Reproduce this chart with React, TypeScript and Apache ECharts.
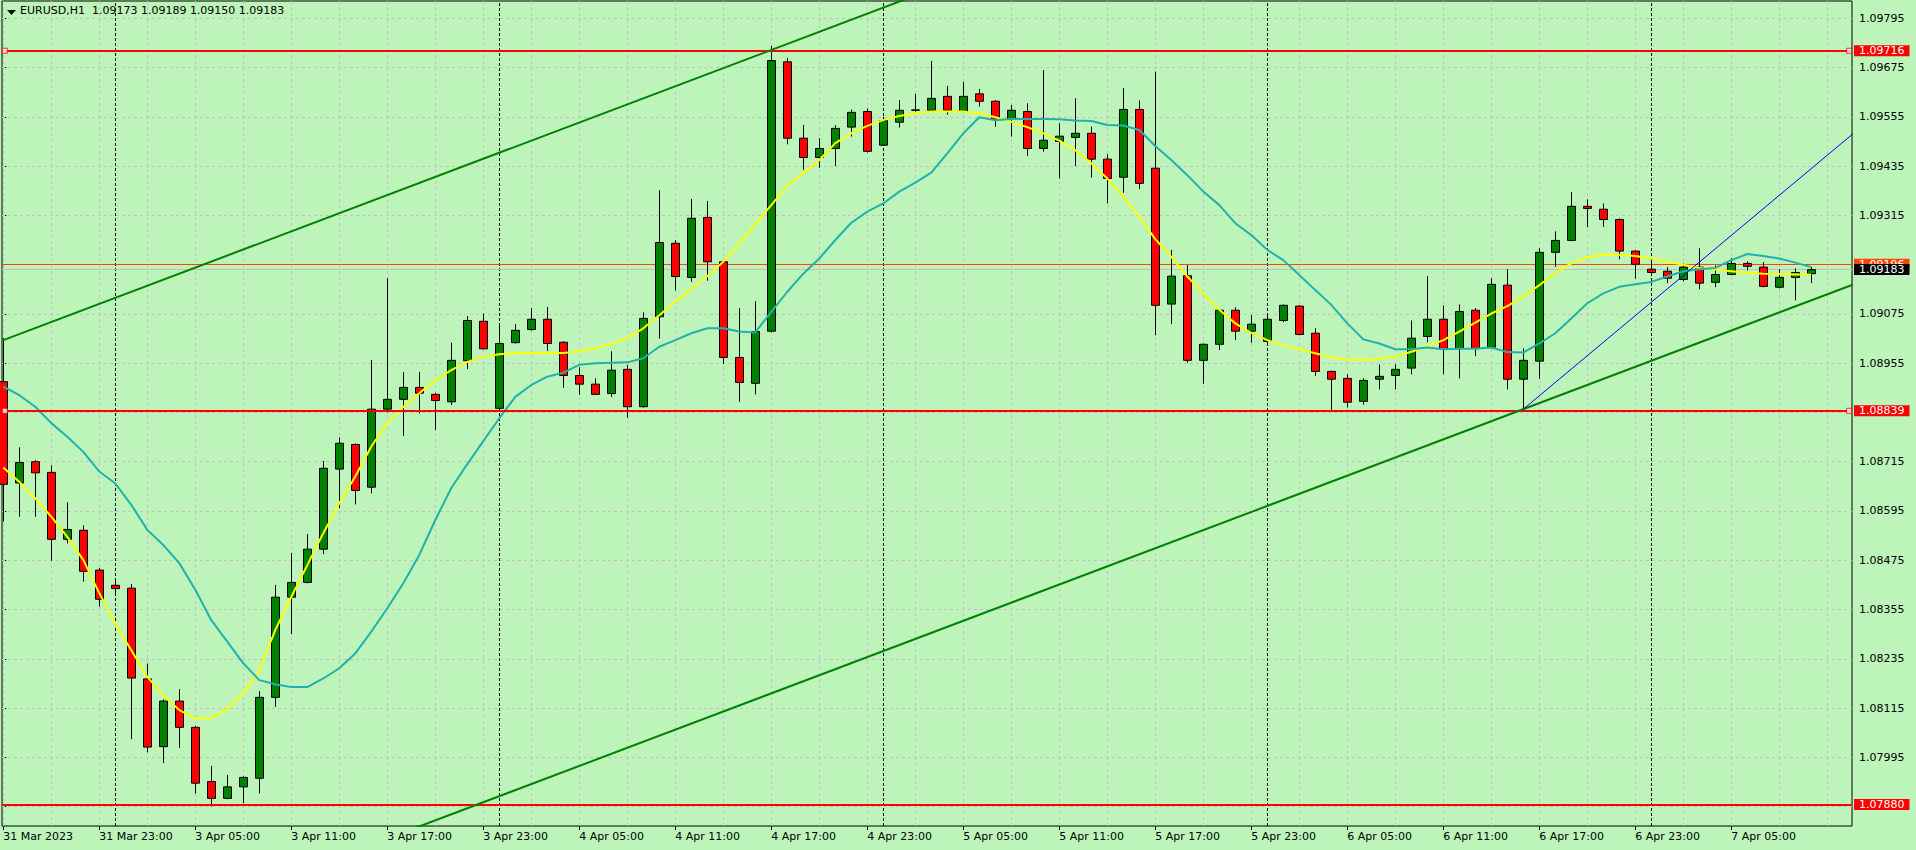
import React, { useEffect, useRef } from 'react';
import * as echarts from 'echarts';

const FONT = 'DejaVu Sans';
const BG = '#bdf4ba';

const symbolTitle = 'EURUSD,H1';
const lastBarOHLC = [1.09173, 1.09189, 1.0915, 1.09183];

// [open, high, low, close] per H1 bar, 31 Mar 17:00 .. 7 Apr 10:00
const candles: number[][] = [
  [1.0891, 1.09016, 1.08569, 1.0866], [1.08663, 1.0875, 1.08581, 1.08713], [1.08715, 1.08719, 1.08581, 1.08688],
  [1.08689, 1.08706, 1.08474, 1.08526], [1.08526, 1.08616, 1.08516, 1.0855], [1.08548, 1.0856, 1.08423, 1.08448],
  [1.08451, 1.08456, 1.08362, 1.0838], [1.08414, 1.08431, 1.08394, 1.08406], [1.08407, 1.08417, 1.08039, 1.08188],
  [1.08186, 1.08223, 1.08007, 1.0802], [1.08021, 1.08136, 1.07981, 1.08132], [1.08132, 1.08161, 1.08018, 1.08068],
  [1.08068, 1.08072, 1.07907, 1.07932], [1.07936, 1.07974, 1.07875, 1.07895], [1.07895, 1.07952, 1.07893, 1.07923],
  [1.07923, 1.07949, 1.07883, 1.07946], [1.07944, 1.08156, 1.07907, 1.08141], [1.08141, 1.08415, 1.08118, 1.08385],
  [1.08385, 1.08493, 1.08295, 1.08421], [1.08421, 1.08539, 1.08419, 1.08502], [1.08502, 1.08717, 1.0849, 1.08699],
  [1.08697, 1.08774, 1.08602, 1.0876], [1.08757, 1.0876, 1.08611, 1.08645], [1.08653, 1.08963, 1.08638, 1.08843],
  [1.08843, 1.09162, 1.08835, 1.08867], [1.08867, 1.08933, 1.08778, 1.08896], [1.08896, 1.08934, 1.08833, 1.08882],
  [1.08879, 1.08883, 1.08792, 1.08864], [1.08861, 1.09005, 1.08853, 1.08962], [1.08961, 1.0907, 1.08941, 1.09059],
  [1.09057, 1.09076, 1.08989, 1.0899], [1.08845, 1.09046, 1.08843, 1.09003], [1.09005, 1.0905, 1.09003, 1.09035],
  [1.09037, 1.09089, 1.09034, 1.09062], [1.09062, 1.09092, 1.08985, 1.09003], [1.09006, 1.09008, 1.08895, 1.08925],
  [1.08925, 1.08945, 1.08878, 1.08904], [1.08904, 1.08918, 1.08878, 1.08879], [1.08881, 1.08984, 1.08873, 1.08938],
  [1.0894, 1.08951, 1.08822, 1.08849], [1.08849, 1.09079, 1.08847, 1.09064], [1.09068, 1.09376, 1.09015, 1.09249],
  [1.09247, 1.09255, 1.09132, 1.09166], [1.09164, 1.09355, 1.09153, 1.09308], [1.0931, 1.0935, 1.09156, 1.09202],
  [1.09202, 1.09205, 1.08953, 1.08969], [1.08969, 1.09089, 1.08861, 1.08908], [1.08906, 1.09106, 1.08879, 1.09032],
  [1.09033, 1.09728, 1.0903, 1.09692], [1.09689, 1.09698, 1.09488, 1.09503], [1.09503, 1.09535, 1.09426, 1.09456],
  [1.09456, 1.09503, 1.09431, 1.09478], [1.09478, 1.09535, 1.09435, 1.09527], [1.0953, 1.09573, 1.09507, 1.09566],
  [1.09568, 1.09576, 1.09468, 1.09471], [1.09486, 1.09555, 1.09484, 1.09546], [1.09542, 1.09596, 1.09529, 1.09571],
  [1.09571, 1.09611, 1.09568, 1.09572], [1.09571, 1.09691, 1.09568, 1.096], [1.09605, 1.0963, 1.0956, 1.09571],
  [1.09568, 1.0964, 1.09566, 1.09605], [1.09611, 1.09623, 1.0958, 1.09593], [1.09593, 1.09596, 1.09531, 1.09549],
  [1.09549, 1.09584, 1.09507, 1.09571], [1.09568, 1.09588, 1.0946, 1.09478], [1.09478, 1.09669, 1.0947, 1.09498],
  [1.09495, 1.09539, 1.09405, 1.09508], [1.09505, 1.096, 1.09435, 1.09515], [1.09515, 1.09531, 1.09407, 1.09452],
  [1.09452, 1.09464, 1.09344, 1.09405], [1.09408, 1.09625, 1.0937, 1.09573], [1.09573, 1.09595, 1.09379, 1.09393],
  [1.0943, 1.09665, 1.09023, 1.09096], [1.09099, 1.09231, 1.0905, 1.09167], [1.09168, 1.09194, 1.08956, 1.08962],
  [1.08962, 1.09003, 1.08905, 1.09001], [1.09001, 1.09086, 1.08987, 1.09084], [1.09084, 1.09091, 1.09011, 1.09033],
  [1.09033, 1.09072, 1.09005, 1.0905], [1.09008, 1.09075, 1.08999, 1.09062], [1.09059, 1.09098, 1.09055, 1.09096],
  [1.09094, 1.09096, 1.09023, 1.09025], [1.09028, 1.0904, 1.08924, 1.08935], [1.08935, 1.08937, 1.08841, 1.08916],
  [1.08918, 1.08928, 1.08847, 1.0886], [1.08862, 1.08918, 1.08854, 1.08913], [1.08916, 1.08952, 1.08891, 1.08923],
  [1.08925, 1.08952, 1.08891, 1.0894], [1.08943, 1.09059, 1.08928, 1.09016], [1.0902, 1.09167, 1.09006, 1.09062],
  [1.09062, 1.09096, 1.08928, 1.08989], [1.08991, 1.09098, 1.08918, 1.09081], [1.09084, 1.09089, 1.08972, 1.08991],
  [1.08994, 1.09162, 1.08991, 1.09147], [1.09145, 1.09184, 1.08891, 1.08916], [1.08916, 1.08991, 1.08843, 1.08962],
  [1.0896, 1.09235, 1.08917, 1.09225], [1.09225, 1.09276, 1.0919, 1.09254], [1.09254, 1.09372, 1.09252, 1.09337],
  [1.09337, 1.09354, 1.09286, 1.09332], [1.0933, 1.09344, 1.09287, 1.09305], [1.09305, 1.09308, 1.09208, 1.09228],
  [1.09228, 1.0923, 1.09161, 1.09196], [1.09184, 1.09208, 1.09174, 1.09176], [1.09179, 1.09189, 1.0915, 1.09162],
  [1.09159, 1.09198, 1.09154, 1.09189], [1.09189, 1.09235, 1.09135, 1.0915], [1.09152, 1.09193, 1.0914, 1.09171],
  [1.09171, 1.09211, 1.09169, 1.09198], [1.09198, 1.09203, 1.09181, 1.09191], [1.09189, 1.09201, 1.0914, 1.09142],
  [1.0914, 1.09184, 1.09137, 1.09164], [1.09164, 1.09186, 1.09108, 1.09176], [1.09173, 1.09189, 1.0915, 1.09183],
];

const maYellow: number[] = [
  1.08701, 1.08666, 1.08626, 1.08581, 1.08532, 1.08476, 1.08395, 1.08321, 1.08256, 1.08191,
  1.08147, 1.0811, 1.0809, 1.0809, 1.08113, 1.08151, 1.08208, 1.08305, 1.08386, 1.08463,
  1.08541, 1.08614, 1.08679, 1.08752, 1.08809, 1.08848, 1.08882, 1.08914, 1.08938, 1.08958,
  1.08971, 1.08977, 1.08979, 1.0898, 1.0898, 1.0898, 1.08984, 1.08991, 1.09002, 1.09016,
  1.0904, 1.09072, 1.09105, 1.09137, 1.09167, 1.09202, 1.09247, 1.09294, 1.0934, 1.09387,
  1.09418, 1.0945, 1.09491, 1.09515, 1.09533, 1.09547, 1.09557, 1.09564, 1.09568, 1.09568,
  1.09568, 1.09564, 1.09554, 1.09543, 1.0953, 1.09515, 1.09497, 1.09474, 1.09442, 1.09405,
  1.09361, 1.09312, 1.09257, 1.09214, 1.09166, 1.09125, 1.09085, 1.09052, 1.09029, 1.09011,
  1.08999, 1.08989, 1.08979, 1.08969, 1.08964, 1.08963, 1.08966, 1.08971, 1.08983, 1.08995,
  1.09011, 1.09032, 1.09054, 1.09076, 1.09094, 1.09117, 1.09145, 1.09175, 1.09198, 1.09213,
  1.09219, 1.09219, 1.09216, 1.0921, 1.09202, 1.09195, 1.09187, 1.09183, 1.09179, 1.09175,
  1.09173, 1.09172, 1.09171, 1.09171,
];

const maTeal: number[] = [
  1.08898, 1.08877, 1.08849, 1.08809, 1.08776, 1.08739, 1.08691, 1.08662, 1.0861, 1.08549,
  1.08512, 1.08468, 1.08403, 1.08329, 1.08277, 1.08224, 1.08183, 1.08173, 1.08166, 1.08166,
  1.08187, 1.08212, 1.08248, 1.08301, 1.08358, 1.08419, 1.08488, 1.08573, 1.08651, 1.08709,
  1.08765, 1.08821, 1.08873, 1.08902, 1.08922, 1.08932, 1.08951, 1.08955, 1.08956, 1.08957,
  1.08967, 1.08995, 1.09011, 1.09028, 1.0904, 1.0904, 1.09032, 1.0903, 1.0908, 1.09129,
  1.09173, 1.0921, 1.09255, 1.09297, 1.09324, 1.09344, 1.09373, 1.09395, 1.09419, 1.09466,
  1.09515, 1.09554, 1.09547, 1.0955, 1.0955, 1.0955, 1.09549, 1.09546, 1.09545, 1.09535,
  1.09534, 1.09523, 1.09484, 1.0945, 1.09413, 1.09373, 1.0934, 1.09296, 1.09267, 1.09231,
  1.09206, 1.0917, 1.09133, 1.09097, 1.09052, 1.09013, 1.09003, 1.08989, 1.08989, 1.08993,
  1.08989, 1.0899, 1.0899, 1.08993, 1.08982, 1.08981, 1.09003, 1.09028, 1.09064, 1.09101,
  1.09125, 1.09141, 1.09147, 1.09153, 1.09166, 1.09179, 1.09184, 1.09187, 1.09206, 1.09221,
  1.09216, 1.0921, 1.092, 1.09189,
];

const priceTicks = [
  1.07875, 1.07995, 1.08115, 1.08235, 1.08355, 1.08475, 1.08595, 1.08715, 1.08835,
  1.08955, 1.09075, 1.09195, 1.09315, 1.09435, 1.09555, 1.09675, 1.09795,
];
const hiddenPriceLabels = [1.07875, 1.08835, 1.09195];

const timeTickBars = [0, 6, 12, 18, 24, 30, 36, 42, 48, 54, 60, 66, 72, 78, 84, 90, 96, 102, 108];
const timeTickLabels = [
  '31 Mar 2023', '31 Mar 23:00', '3 Apr 05:00', '3 Apr 11:00', '3 Apr 17:00', '3 Apr 23:00',
  '4 Apr 05:00', '4 Apr 11:00', '4 Apr 17:00', '4 Apr 23:00', '5 Apr 05:00', '5 Apr 11:00',
  '5 Apr 17:00', '5 Apr 23:00', '6 Apr 05:00', '6 Apr 11:00', '6 Apr 17:00', '6 Apr 23:00', '7 Apr 05:00',
];
const daySeparatorBars = [7, 31, 55, 79, 103];
const gridBarStep = 3;

const redLevels = [1.09716, 1.08839, 1.0788];
const selectedLevels = [1.09716, 1.08839];
const askPrice = 1.09196;
const bidPrice = 1.09183;

const upperTrend = [[0, 1.09011], [48, 1.09718]];
const lowerTrendAnchor = [95, 1.08843];
const blueTrend = [[95, 1.08843], [113, 1.09429]];

const X_MIN = -0.081;
const X_MAX = 115.544;
const Y_MIN = 1.078277;
const Y_MAX = 1.098372;

function lineThrough(p: number[], slope: number, xa: number, xb: number) {
  return [[xa, p[1] + slope * (xa - p[0])], [xb, p[1] + slope * (xb - p[0])]];
}

function priceLabelAxis(values: number[], bg: string) {
  return {
    type: 'value',
    position: 'right',
    min: Y_MIN,
    max: Y_MAX,
    axisLine: { show: false },
    axisTick: { show: false },
    splitLine: { show: false },
    axisLabel: {
      customValues: values,
      margin: 2,
      hideOverlap: false,
      formatter: (v: number) => `{b|${v.toFixed(5)}}`,
      rich: {
        b: {
          backgroundColor: bg, color: '#ffffff', padding: [0, 5, 0, 5],
          lineHeight: 12, fontSize: 11, fontFamily: FONT,
        },
      },
    },
  };
}

export default function App() {
  const ref = useRef<HTMLDivElement>(null);
  useEffect(() => {
    if (!ref.current) return;
    const chart = echarts.init(ref.current, undefined, { renderer: 'svg' });
    const slope = (upperTrend[1][1] - upperTrend[0][1]) / (upperTrend[1][0] - upperTrend[0][0]);
    const blueSlope = (blueTrend[1][1] - blueTrend[0][1]) / (blueTrend[1][0] - blueTrend[0][0]);
    const gridBars: number[] = [];
    for (let b = 0; b <= X_MAX; b += gridBarStep) gridBars.push(b);
    const same = (a: number, b: number) => Math.abs(a - b) < 1e-7;
    const gridStyle = { color: '#c8bec8', width: 1, type: [3, 3] };

    const option: any = {
      animation: false,
      backgroundColor: BG,
      textStyle: { fontFamily: FONT },
      title: {
        text: `${symbolTitle}  ${lastBarOHLC.map((v) => v.toFixed(5)).join(' ')}`,
        left: 20,
        top: 5,
        padding: 0,
        textStyle: { fontSize: 11, fontWeight: 'normal', color: '#000', fontFamily: FONT },
        z: 20,
      },
      graphic: [
        {
          type: 'polygon',
          shape: { points: [[7, 10], [16, 10], [11.5, 15]] },
          style: { fill: '#000' },
          z: 100,
        },
      ],
      grid: {
        left: 2, right: 64, top: 1, bottom: 24,
        show: true, backgroundColor: BG, borderColor: '#000', borderWidth: 1,
      },
      xAxis: {
        type: 'value',
        min: X_MIN,
        max: X_MAX,
        axisLine: { show: false },
        axisTick: { show: true, customValues: timeTickBars, length: 4, lineStyle: { color: '#000' } },
        axisLabel: {
          customValues: timeTickBars,
          formatter: (v: number) => {
            const k = timeTickBars.indexOf(Math.round(v));
            return k >= 0 ? timeTickLabels[k] : '';
          },
          align: 'left',
          margin: 5,
          fontSize: 11,
          color: '#000',
          fontFamily: FONT,
        },
        splitLine: { show: false },
      },
      yAxis: [
        {
          type: 'value',
          position: 'right',
          min: Y_MIN,
          max: Y_MAX,
          axisLine: { show: false },
          axisTick: { show: true, customValues: priceTicks, length: 3, lineStyle: { color: '#000' } },
          axisLabel: {
            customValues: priceTicks.filter((t) => !hiddenPriceLabels.some((h) => same(h, t))),
            formatter: (v: number) => v.toFixed(5),
            margin: 7,
            fontSize: 11,
            color: '#000',
            fontFamily: FONT,
          },
          splitLine: { show: false },
        },
        priceLabelAxis(redLevels, '#ff0000'),
        priceLabelAxis([askPrice], '#ff4500'),
        priceLabelAxis([bidPrice], '#000000'),
      ],
      series: [
        {
          name: 'grid',
          type: 'line',
          data: [],
          z: 1,
          silent: true,
          markLine: {
            z: 1,
            silent: true,
            precision: 6,
            symbol: 'none',
            label: { show: false },
            emphasis: { disabled: true },
            animation: false,
            data: [
              ...priceTicks.map((v) => ({ yAxis: v, lineStyle: gridStyle })),
              ...gridBars.map((b) => ({ xAxis: b, lineStyle: gridStyle })),
              ...daySeparatorBars.map((b) => ({ xAxis: b, lineStyle: { color: '#000000', width: 1, type: [3, 2] } })),
              { yAxis: askPrice, lineStyle: { color: '#ff4500', width: 1, type: 'solid' } },
              { yAxis: bidPrice, lineStyle: { color: '#c0c0c0', width: 1, type: 'solid' } },
            ],
          },
        },
        {
          name: 'EURUSD',
          type: 'candlestick',
          z: 3,
          clip: true,
          barWidth: 9,
          silent: true,
          data: candles.map((c, i) => [i, c[0], c[3], c[2], c[1]]),
          itemStyle: {
            color: '#008000',
            color0: '#ff0000',
            borderColor: '#000000',
            borderColor0: '#000000',
            borderColorDoji: '#000000',
            borderWidth: 1,
          },
        },
        {
          name: 'MA yellow',
          type: 'line',
          z: 4,
          silent: true,
          showSymbol: false,
          symbol: 'none',
          data: maYellow.map((v, i) => [i, v]),
          lineStyle: { color: '#ffff00', width: 2 },
        },
        {
          name: 'MA teal',
          type: 'line',
          z: 4,
          silent: true,
          showSymbol: false,
          symbol: 'none',
          data: maTeal.map((v, i) => [i, v]),
          lineStyle: { color: '#20b2aa', width: 2 },
        },
        {
          name: 'levels',
          type: 'line',
          data: [],
          z: 5,
          silent: true,
          markLine: {
            z: 5,
            silent: true,
            precision: 6,
            symbol: 'none',
            label: { show: false },
            emphasis: { disabled: true },
            animation: false,
            data: redLevels.map((v) => ({ yAxis: v, lineStyle: { color: '#ff0000', width: 2, type: 'solid' } })),
          },
        },
        {
          name: 'channel upper',
          type: 'line',
          z: 5,
          silent: true,
          showSymbol: false,
          symbol: 'none',
          clip: true,
          data: lineThrough(upperTrend[0], slope, X_MIN, 70),
          lineStyle: { color: '#008000', width: 2 },
        },
        {
          name: 'channel lower',
          type: 'line',
          z: 5,
          silent: true,
          showSymbol: false,
          symbol: 'none',
          clip: true,
          data: lineThrough(lowerTrendAnchor, slope, 10, X_MAX + 1),
          lineStyle: { color: '#008000', width: 2 },
        },
        {
          name: 'blue trend',
          type: 'line',
          z: 5,
          silent: true,
          showSymbol: false,
          symbol: 'none',
          clip: true,
          data: lineThrough(blueTrend[0], blueSlope, blueTrend[0][0], X_MAX + 1),
          lineStyle: { color: '#0000ff', width: 1 },
        },
        {
          name: 'level handles',
          type: 'scatter',
          z: 6,
          silent: true,
          symbol: 'rect',
          symbolSize: 5,
          clip: false,
          data: selectedLevels.flatMap((v) => [[X_MIN + 0.175, v], [X_MAX - 0.18, v]]),
          itemStyle: { color: '#ffffff', borderColor: '#ff0000', borderWidth: 1 },
        },
      ],
    };
    chart.setOption(option);
    return () => chart.dispose();
  }, []);

  return (
    <div
      ref={ref}
      style={{ position: 'fixed', left: 0, top: 0, width: 1916, height: 850, background: BG }}
    />
  );
}
